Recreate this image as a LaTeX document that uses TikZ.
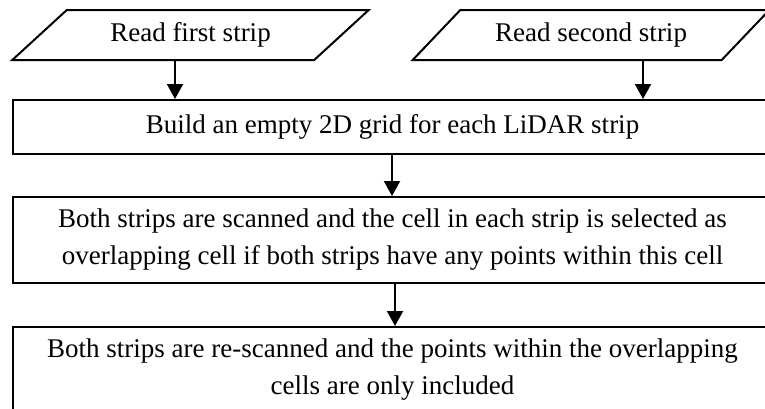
\documentclass[tikz,border=0pt]{standalone}
\usepackage{fontspec}
\setmainfont{Liberation Serif}
\usetikzlibrary{shapes.geometric,arrows.meta}
\begin{document}
\begin{tikzpicture}[x=1pt,y=-1pt,
  txt/.style={font=\fontsize{27}{37}\selectfont},
  iobox/.style={txt, draw=black, line width=2pt, trapezium,
    trapezium left angle=35, trapezium right angle=145,
    trapezium stretches=true, minimum width=357pt, minimum height=50pt,
    inner sep=0pt},
  procbox/.style={txt, draw=black, line width=2pt, rectangle,
    minimum width=759pt, inner sep=0pt, align=center},
  flow/.style={line width=2pt, -{Triangle[length=15pt,width=16pt]}}]
\useasboundingbox (0,0) rectangle (765,408);
\clip (0,0) rectangle (765,408);

% input strips
\node[iobox] (rd1) at (190.5,35) {Read first strip};
\node[iobox] (rd2) at (591,35) {Read second strip};

% processing steps
\node[procbox, minimum height=54pt] (grid) at (392.5,127)
  {Build an empty 2D grid for each LiDAR strip};
\node[procbox, minimum height=86pt] (scan) at (392.5,240)
  {Both strips are scanned and the cell in each strip is selected as\\
   overlapping cell if both strips have any points within this cell};
\node[procbox, minimum height=86pt] (rescan) at (392.5,370)
  {Both strips are re-scanned and the points within the overlapping\\
   cells are only included};

% x positions of the connectors
\coordinate (x1) at (175,0);
\coordinate (x2) at (643,0);
\coordinate (x3) at (392,0);
\coordinate (x4) at (395,0);

\draw[flow] (rd1.south -| x1) -- (grid.north -| x1);
\draw[flow] (rd2.south -| x2) -- (grid.north -| x2);
\draw[flow] (grid.south -| x3) -- (scan.north -| x3);
\draw[flow] (scan.south -| x4) -- (rescan.north -| x4);
\end{tikzpicture}
\end{document}
